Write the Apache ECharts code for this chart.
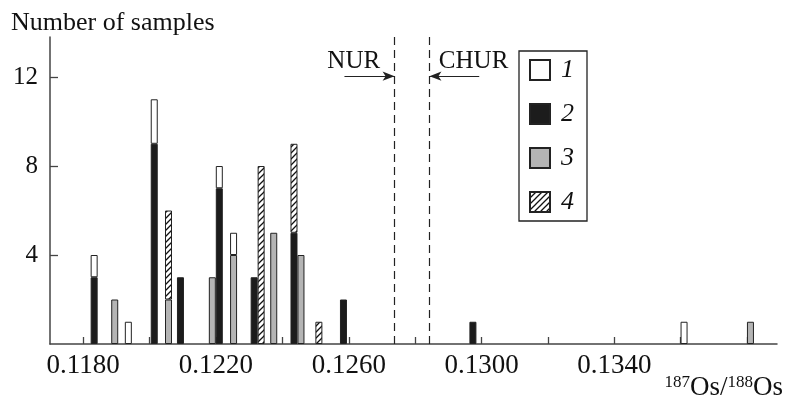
<!DOCTYPE html>
<html>
<head>
<meta charset="utf-8">
<script src="https://cdn.jsdelivr.net/npm/echarts@6/dist/echarts.min.js"></script>
<style>
  html, body { margin: 0; background: #fff; }
  #chart { width: 786px; height: 401px; }
</style>
</head>
<body>
<div id="chart"></div>
<script>
// 187Os/188Os of each histogram column, and sample counts per group
const osRatio = [0.11833, 0.11895, 0.11936, 0.12014, 0.12057, 0.12093, 0.12189, 0.1221, 0.12253, 0.12315,
                 0.12336, 0.12374, 0.12435, 0.12456, 0.1251, 0.12584, 0.12974, 0.1361, 0.1381];
const group1 = [1, null, 1, 2, null, null, null, 1, 1, null, null, null, null, null, null, null, null, 1, null];
const group2 = [3, null, null, 9, null, 3, null, 7, null, 3, null, null, 5, null, null, 2, 1, null, null];
const group3 = [null, 2, null, null, 2, null, 3, null, 4, null, null, 5, null, 4, null, null, null, null, 1];
const group4 = [null, null, null, null, 4, null, null, null, null, null, 8, null, 4, null, 1, null, null, null, null];

const xTicks = [0.118, 0.120, 0.122, 0.124, 0.126, 0.128, 0.130, 0.132, 0.134, 0.136, 0.138];
const xLabels = [0.118, 0.122, 0.126, 0.130, 0.134];
const yTicks = [4, 8, 12];

const NUR = 0.12738;
const CHUR = 0.12843;
const Y_MAX = 13.8;

const serif = "'Liberation Serif', 'DejaVu Serif', serif";

function hatch() {
  const c = document.createElement('canvas');
  c.width = 6; c.height = 6;
  const g = c.getContext('2d');
  g.fillStyle = '#fff';
  g.fillRect(0, 0, 6, 6);
  g.strokeStyle = '#111';
  g.lineWidth = 1.3;
  g.beginPath();
  g.moveTo(-1, 7); g.lineTo(7, -1);
  g.moveTo(-3, 3); g.lineTo(3, -3);
  g.moveTo(3, 9); g.lineTo(9, 3);
  g.stroke();
  return c;
}

// count goes in column 0 so that the stack is computed on it
function bars(name, vals, color) {
  return {
    name: name,
    type: 'bar',
    stack: 'n',
    barWidth: 7,
    encode: { x: 1, y: 0 },
    data: osRatio.map((x, i) => [vals[i] == null ? '-' : vals[i], x]),
    itemStyle: { color: color, borderColor: '#222', borderWidth: 1 },
    emphasis: { disabled: true }
  };
}

const dashStyle = { type: [8, 5], width: 1.2, color: '#222' };
const arrowStyle = { type: 'solid', width: 1.2, color: '#222' };

const black = bars('2', group2, '#1c1c1c');
black.markLine = {
  silent: true,
  symbol: 'none',
  label: { show: false },
  data: [
    [
      { coord: [NUR, 0], lineStyle: dashStyle },
      { coord: [NUR, Y_MAX], lineStyle: dashStyle }
    ],
    [
      { coord: [CHUR, 0], lineStyle: dashStyle },
      { coord: [CHUR, Y_MAX], lineStyle: dashStyle }
    ],
    [
      { coord: [0.12587, 12.04], symbol: 'none', lineStyle: arrowStyle },
      { coord: [NUR, 12.04], symbol: 'arrow', symbolSize: [7, 12], lineStyle: arrowStyle }
    ],
    [
      { coord: [0.12993, 12.04], symbol: 'none', lineStyle: arrowStyle },
      { coord: [CHUR, 12.04], symbol: 'arrow', symbolSize: [7, 12], lineStyle: arrowStyle }
    ]
  ]
};
black.markPoint = {
  symbol: 'circle',
  symbolSize: 1,
  silent: true,
  itemStyle: { color: 'rgba(0,0,0,0)', borderWidth: 0 },
  label: { show: true, position: 'inside', formatter: '{b}', fontFamily: serif, fontSize: 25, color: '#111' },
  data: [
    { name: 'NUR', coord: [0.12615, 12.72] },
    { name: 'CHUR', coord: [0.12976, 12.72] }
  ]
};

const chart = echarts.init(document.getElementById('chart'));

chart.setOption({
  animation: false,
  grid: { left: 50, right: 9, top: 37, bottom: 57 },
  title: {
    text: 'Number of samples',
    left: 6, top: 5,
    textStyle: { fontFamily: serif, fontSize: 26, fontWeight: 'normal', color: '#111' }
  },
  legend: {
    data: ['1', '2', '3', '4'],
    orient: 'vertical',
    left: 519, top: 51,
    padding: [6, 13, 6, 10],
    itemWidth: 20, itemHeight: 20, itemGap: 18,
    borderColor: '#222', borderWidth: 1.3,
    icon: 'rect',
    selectedMode: false,
    textStyle: { fontFamily: serif, fontStyle: 'italic', fontSize: 26, color: '#111', padding: [0, 0, 0, 6] }
  },
  xAxis: {
    type: 'value',
    min: 0.117, max: 0.1389,
    splitLine: { show: false },
    axisLine: { lineStyle: { color: '#444', width: 1.5 } },
    axisTick: { inside: true, length: 7, customValues: xTicks, lineStyle: { color: '#444', width: 1.3 } },
    axisLabel: {
      customValues: xLabels,
      formatter: v => v.toFixed(4),
      margin: 8,
      fontFamily: serif, fontSize: 27, color: '#111'
    }
  },
  yAxis: {
    type: 'value',
    min: 0, max: Y_MAX,
    splitLine: { show: false },
    axisLine: { show: true, lineStyle: { color: '#444', width: 1.5 } },
    axisTick: { show: true, inside: true, length: 8, customValues: yTicks, lineStyle: { color: '#444', width: 1.3 } },
    axisLabel: { customValues: yTicks, margin: 12, fontFamily: serif, fontSize: 25, color: '#111' }
  },
  series: [
    black,
    bars('3', group3, '#b4b4b4'),
    bars('1', group1, '#ffffff'),
    bars('4', group4, { image: hatch(), repeat: 'repeat' })
  ],
  graphic: [{
    type: 'text',
    right: 3,
    bottom: 0,
    style: {
      text: '{s|187}{o|Os/}{s|188}{o|Os}',
      rich: {
        s: { fontFamily: serif, fontSize: 17, verticalAlign: 'top', fill: '#111' },
        o: { fontFamily: serif, fontSize: 27, fill: '#111' }
      }
    }
  }]
});
</script>
</body>
</html>
